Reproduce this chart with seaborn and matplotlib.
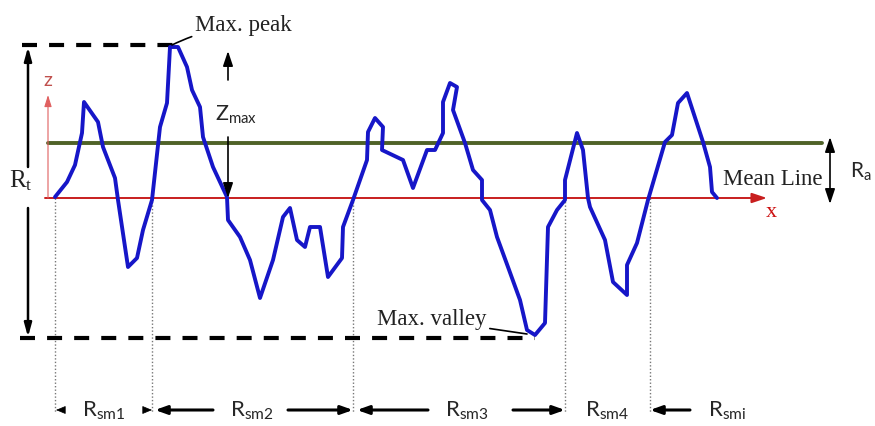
import numpy as np
import pandas as pd
import seaborn as sns
import matplotlib.pyplot as plt

# surface roughness profile: x = distance along the sample, z = height above the mean line
x_profile = [-2, 10, 18, 25, 27, 41, 46, 58, 61, 71, 80, 86, 95, 103, 110, 113, 121, 130, 135, 143,
             146, 156, 170, 171, 183, 193, 203, 216, 226, 233, 240, 248, 253, 263, 271, 285, 286, 296,
             310, 311, 318, 326, 325, 346, 356, 370, 378, 386, 386, 393, 400, 396, 408, 416, 425, 425,
             433, 440, 451, 463, 470, 478, 488, 491, 500, 508, 508, 520, 526, 531, 533, 548, 556, 570,
             570, 580, 591, 608, 615, 621, 630, 646, 653, 655, 660]
z_profile = [1, 16, 33, 65, 96, 76, 51, 20, -2, -69, -60, -32, -2, 71, 95, 151, 151, 131, 108, 91,
             61, 31, 1, -22, -39, -62, -100, -62, -19, -10, -42, -49, -29, -29, -79, -60, -29, -2,
             38, 66, 80, 71, 48, 38, 10, 48, 48, 65, 96, 115, 111, 88, 55, 28, 18, -2,
             -12, -39, -69, -102, -132, -137, -125, -29, -12, -2, 18, 65, 48, 0, -9, -42, -84, -97,
             -67, -45, -2, 56, 63, 95, 105, 56, 31, 6, 0]

# key levels
z_peak = 153
z_valley = -140
z_ra = 55

# mean-line crossings that bound the Rsm spacings
x_cross = [-2, 95, 296, 508, 593]
rsm_labels = ["sm1", "sm2", "sm3", "sm4", "smi"]
rsm_label_x = [47, 195, 410, 550, 670]

profile = pd.DataFrame({"x": x_profile, "z": z_profile})

sns.set_style("white")
SERIF = ["Liberation Serif", "DejaVu Serif"]
SANS = ["Lato", "DejaVu Sans"]

fig = plt.figure(figsize=(8.75, 4.26), dpi=100)
ax = fig.add_axes([0, 0, 1, 1])
ax.set_xlim(-57, 818)
ax.set_ylim(-228, 198)
ax.axis("off")

# Ra line (green) and mean line / axes (red)
ax.plot([-9, 765], [z_ra, z_ra], color="#4f6228", lw=2.8, zorder=2)
ax.annotate("", xy=(710, 0), xytext=(-12, 0),
            arrowprops=dict(arrowstyle="-|>,head_length=0.9,head_width=0.3",
                            color="#c81e1e", lw=1.4, shrinkA=0, shrinkB=0), zorder=2)
ax.annotate("", xy=(-9, 103), xytext=(-9, 0),
            arrowprops=dict(arrowstyle="-|>,head_length=0.7,head_width=0.22",
                            color="#e06060", lw=0.8, shrinkA=0, shrinkB=0), zorder=2)
ax.text(-9, 118, "z", color="#c0504d", fontsize=14, family=SANS, ha="center", va="center")
ax.text(714, -15, "x", color="#cc1111", fontsize=16, family=SERIF, ha="center", va="center")

# dotted verticals at the mean-line crossings
for xc in x_cross:
    ax.plot([xc, xc], [0, -214], color="#777777", lw=1.0, ls=(0, (1, 1.5)), zorder=1)

# the profile itself
sns.lineplot(data=profile, x="x", y="z", sort=False, estimator=None,
             color="#1616c8", lw=2.8, ax=ax, zorder=3,
             solid_joinstyle="round", solid_capstyle="round")

# Rt: peak and valley dashed levels
dash = (0, (3.6, 2.9))
ax.plot([-35, 121], [z_peak, z_peak], color="black", lw=3, ls=dash, zorder=2)
ax.plot([-37, 478], [z_valley, z_valley], color="black", lw=3, ls=dash, zorder=2)

arrow = dict(arrowstyle="-|>,head_length=0.8,head_width=0.22", color="black", lw=1.8,
             shrinkA=0, shrinkB=0)
ax.annotate("", xy=(-29, 151), xytext=(-29, 31), arrowprops=arrow)
ax.annotate("", xy=(-29, -139), xytext=(-29, -10), arrowprops=arrow)
ax.text(-36, 17, r"$\mathregular{R_t}$", fontsize=18, family=SERIF, ha="center", va="center",
        color="#222222")

# Zmax
thin = dict(arrowstyle="-|>,head_length=0.9,head_width=0.3", color="black", lw=1.2,
            shrinkA=0, shrinkB=0)
ax.annotate("", xy=(171, 147), xytext=(171, 118), arrowprops=thin)
ax.annotate("", xy=(171, 0), xytext=(171, 61), arrowprops=thin)
ax.text(179, 83, r"$\mathregular{Z_{max}}$", fontsize=15.5, family=SANS, ha="center", va="center")

# Ra
ax.annotate("", xy=(773, 61), xytext=(773, -6),
            arrowprops=dict(arrowstyle="<|-|>,head_length=0.9,head_width=0.3", color="black",
                            lw=1.2, shrinkA=0, shrinkB=0))
ax.text(804, 26, r"$\mathregular{R_a}$", fontsize=15, family=SANS, ha="center", va="center")

# serif labels
ax.text(666, 18, "Mean Line", fontsize=16.5, family=SERIF, ha="left", va="center", color="#222222")
ax.annotate("Max. peak", xy=(115, 153), xytext=(138, 172), fontsize=16.5, family=SERIF,
            ha="left", va="center", color="#222222",
            arrowprops=dict(arrowstyle="-", color="black", lw=1.2, shrinkA=0, shrinkB=0,
                            connectionstyle="arc3,rad=0.1"))
ax.annotate("Max. valley", xy=(470, -136), xytext=(320, -122), fontsize=16.5, family=SERIF,
            ha="left", va="center", color="#222222",
            arrowprops=dict(arrowstyle="-", color="black", lw=1.2, shrinkA=0, shrinkB=0))

# Rsm spacing arrows and labels
y_b = -212
small = dict(arrowstyle="-|>,head_length=0.6,head_width=0.25", color="black", lw=0.5,
             shrinkA=0, shrinkB=0)
ax.annotate("", xy=(-1, y_b), xytext=(7, y_b), arrowprops=small)
ax.annotate("", xy=(95, y_b), xytext=(87, y_b), arrowprops=small)
big = dict(arrowstyle="-|>,head_length=0.7,head_width=0.25", color="black", lw=2.2,
           shrinkA=0, shrinkB=0)
for start, end in [(156, 98), (231, 296), (371, 300), (456, 508), (633, 593)]:
    ax.annotate("", xy=(end, y_b), xytext=(start, y_b), arrowprops=big)
for lab, xl in zip(rsm_labels, rsm_label_x):
    ax.text(xl, -219, r"$\mathregular{R_{%s}}$" % lab, fontsize=16, family=SANS,
            ha="center", va="baseline")

fig.savefig("out.png", dpi=100)
